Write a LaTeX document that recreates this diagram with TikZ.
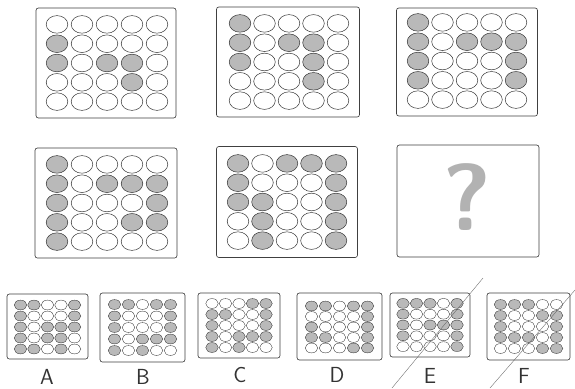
\documentclass[tikz,border=0pt]{standalone}
\usepackage{tikz}
\usetikzlibrary{positioning, shapes.geometric}

% one 5x5 field of dots: name, centre x, centre y, step x, step y, style, 25 values
\newcommand{\dotgrid}[7]{%
  \foreach \val [count=\k from 0] in {#7} {
    \pgfmathtruncatemacro{\gr}{\k/5}
    \pgfmathtruncatemacro{\gc}{mod(\k,5)}
    \node[#6, dot\val] (#1-\gr-\gc) at ({#2+(\gc-2)*#4}, {#3+(\gr-2)*#5}) {};
  }
}

\begin{document}
\begin{tikzpicture}[
    x=0.5mm, y=-0.5mm,
    frame/.style={draw=black!75, line width=0.9pt, rounded corners=1.2mm, inner sep=0},
    bigdot/.style={ellipse, draw=black!80, line width=0.7pt, minimum width=10.8mm, minimum height=8.8mm, inner sep=0},
    smalldot/.style={ellipse, draw=black!80, line width=0.5pt, minimum width=6.3mm, minimum height=4.9mm, inner sep=0},
    dot0/.style={fill=white},
    dot1/.style={fill=gray!55},
    letter/.style={font=\sffamily\fontsize{31}{31}\selectfont, text=black!80},
    stroke/.style={draw=black!60, line width=0.5pt},
]
\useasboundingbox[fill=white] (0,0) rectangle (575,388);

% big panels
\node[frame, minimum width=70mm, minimum height=55mm] (p1) at (106, 63) {};
\node[frame, minimum width=71.5mm, minimum height=55mm] (p2) at (288, 62) {};
\node[frame, minimum width=70.5mm, minimum height=54mm] (p3) at (467, 62) {};
\node[frame, minimum width=71mm, minimum height=55mm] (p4) at (106, 203) {};
\node[frame, minimum width=70.5mm, minimum height=55.5mm] (p5) at (287, 202) {};
\node[frame, minimum width=71mm, minimum height=56mm] (p6) at (468, 201) {};

\dotgrid{p1}{107}{63}{25}{19.3}{bigdot}{0,0,0,0,0, 1,0,0,0,0, 1,0,1,1,0, 0,0,0,1,0, 0,0,0,0,0}
\dotgrid{p2}{289}{62}{24.5}{19.3}{bigdot}{1,0,0,0,0, 1,0,1,1,0, 1,0,0,1,0, 0,0,0,1,0, 0,0,0,0,0}
\dotgrid{p3}{467}{61}{24.5}{19.3}{bigdot}{1,0,0,0,0, 1,0,1,1,1, 1,0,0,0,1, 1,0,0,0,1, 0,0,0,0,0}
\dotgrid{p4}{107}{203}{25}{19.3}{bigdot}{1,0,0,0,0, 1,0,1,1,1, 1,0,0,0,1, 1,0,0,1,1, 1,0,0,0,0}
\dotgrid{p5}{287}{202}{24.5}{19.3}{bigdot}{1,0,1,1,1, 1,0,0,0,1, 1,1,0,0,1, 0,1,0,0,1, 0,1,0,0,1}

\node[font=\sffamily\bfseries\fontsize{135}{135}\selectfont, text=gray!60] (qm) at (467, 197) {?};

% answer panels
\node[frame, minimum width=40.5mm, minimum height=32.5mm] (oa) at (47.5, 326.5) {};
\node[frame, minimum width=42.5mm, minimum height=34.5mm] (ob) at (142.5, 327.5) {};
\node[frame, minimum width=41mm, minimum height=32.5mm] (oc) at (239, 325.5) {};
\node[frame, minimum width=42.5mm, minimum height=33.5mm] (od) at (339.5, 326.5) {};
\node[frame, minimum width=40mm, minimum height=32mm] (oe) at (430, 325) {};
\node[frame, minimum width=41.5mm, minimum height=33.5mm] (of) at (528.5, 326.5) {};

\dotgrid{oa}{47.5}{327}{13.5}{11}{smalldot}{1,1,0,0,1, 1,0,0,0,1, 1,0,1,1,1, 1,0,1,1,0, 1,1,0,1,0}
\dotgrid{ob}{142.5}{327.5}{14}{11.5}{smalldot}{1,1,0,1,1, 1,0,0,0,1, 1,0,0,0,1, 1,0,1,1,1, 1,0,1,0,0}
\dotgrid{oc}{239}{325.5}{13.5}{11}{smalldot}{0,0,0,1,1, 1,1,0,0,1, 1,0,0,0,1, 1,0,1,1,1, 1,0,1,0,0}
\dotgrid{od}{339.5}{327}{14}{10.5}{smalldot}{1,1,0,1,1, 0,0,0,0,1, 1,0,0,0,1, 1,1,0,0,1, 0,0,0,1,1}
\dotgrid{oe}{430}{325}{13.5}{10.8}{smalldot}{1,1,1,0,1, 1,0,0,0,1, 1,0,1,1,1, 1,0,0,0,1, 0,0,0,0,1}
\dotgrid{of}{528.5}{326.5}{14}{11}{smalldot}{1,1,1,0,0, 1,0,0,1,1, 1,0,0,0,1, 1,1,1,0,1, 0,0,0,1,1}

\node[letter] (la) at (47, 377) {A};
\node[letter] (lb) at (143, 377) {B};
\node[letter] (lc) at (240, 375) {C};
\node[letter] (ld) at (337, 375) {D};
\node[letter] (le) at (430, 376) {E};
\node[letter] (lf) at (524, 376) {F};

% pen strokes over E and F
\coordinate (e1) at (483, 278);
\coordinate (e2) at (392, 388);
\coordinate (f1) at (575, 290);
\coordinate (f2) at (490, 388);
\draw[stroke] (e1) -- (e2);
\draw[stroke] (f1) -- (f2);
\end{tikzpicture}
\end{document}
